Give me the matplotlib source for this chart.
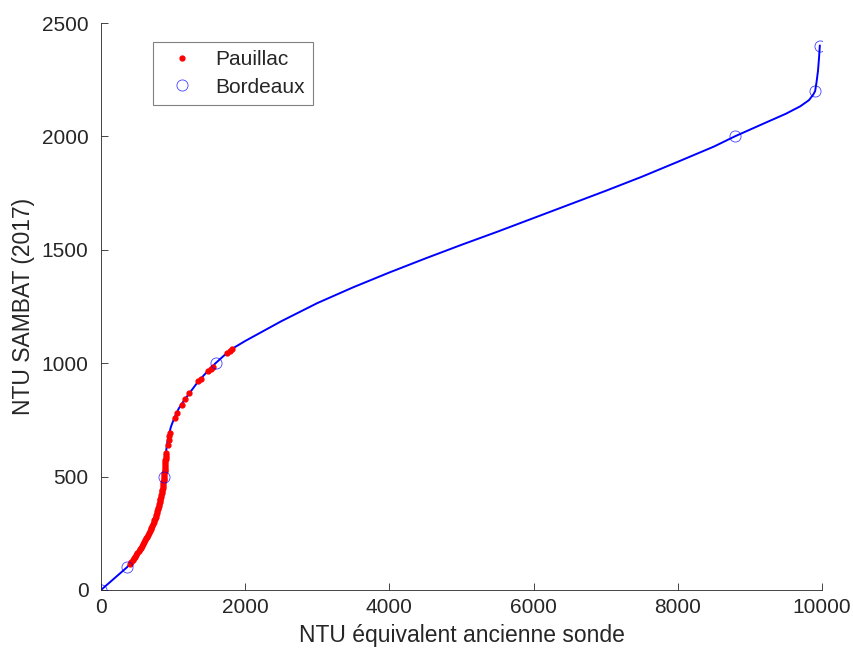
import numpy as np
import matplotlib
matplotlib.use("Agg")
import matplotlib.pyplot as plt

plt.rcParams['font.family'] = ['Liberation Sans', 'DejaVu Sans']

# Bordeaux calibration points
bordeaux_x = [0, 360, 878, 1589, 8790, 9905, 9970]
bordeaux_y = [0, 100, 500, 1000, 2000, 2200, 2400]

# fitted curve
courbe_x = [0, 180, 360, 440, 500, 575, 635, 680, 725, 755, 785, 808, 830,
            848, 862, 875, 884, 891, 899, 913, 937, 970, 1018, 1078, 1160,
            1255, 1349, 1465, 1589, 1700, 1800, 2000, 2500, 3000, 3500, 4000,
            4500, 5000, 5500, 6000, 6500, 7000, 7500, 8000, 8500, 8790, 9200,
            9500, 9700, 9820, 9880, 9905, 9925, 9945, 9960, 9970]
courbe_y = [0, 50, 100, 130, 160, 200, 235, 260, 294, 320, 353, 380, 411,
            440, 470, 500, 530, 560, 600, 640, 680, 720, 760, 800, 840,
            880, 920, 960, 1000, 1032, 1060, 1098, 1185, 1265, 1335, 1400,
            1462, 1522, 1580, 1640, 1700, 1760, 1822, 1888, 1955, 2000, 2058,
            2100, 2133, 2160, 2185, 2200, 2240, 2290, 2350, 2400]

# Pauillac samples
pauillac_x = [400, 420, 442, 458, 474, 490, 505, 520, 535, 551, 566, 580, 594,
              608, 622, 635, 649, 664, 678, 689, 700, 711, 721, 730, 740, 749,
              758, 766, 773, 780, 787, 794, 800, 807, 813, 819, 824, 830, 835,
              840, 845, 850, 853, 857, 861, 864, 868, 872, 875, 877, 880, 882,
              884, 886, 888, 890, 891, 893, 895, 896, 898, 899,
              930, 942, 945, 950, 1026, 1058, 1118, 1164, 1224, 1349, 1382,
              1488, 1520, 1557, 1742, 1788, 1811]
pauillac_y = [115, 123, 131, 139, 147, 155, 163, 171, 179, 187, 195, 203, 211,
              219, 227, 235, 243, 251, 259, 267, 275, 283, 291, 299, 307, 315,
              323, 331, 339, 347, 355, 363, 371, 379, 387, 395, 403, 411, 419,
              427, 435, 443, 451, 459, 467, 475, 483, 491, 499, 507, 515, 523,
              531, 539, 547, 555, 563, 571, 579, 587, 595, 603,
              640, 660, 680, 692, 757, 779, 816, 841, 867, 921, 930,
              966, 974, 985, 1046, 1055, 1061]

gris = (0.15, 0.15, 0.15)

fig = plt.figure(figsize=(8.54, 6.54), dpi=100)
ax = fig.add_axes([0.1183, 0.0979, 0.8442, 0.8669])

ax.plot(courbe_x, courbe_y, color=(0, 0, 1), lw=1.4, zorder=2)
ax.plot(pauillac_x, pauillac_y, '.', color=(1, 0, 0), ms=7, label='Pauillac', zorder=3)
ax.plot(bordeaux_x, bordeaux_y, 'o', mfc='none', mec=(0, 0, 1), mew=0.6, ms=8,
        alpha=0.75, label='Bordeaux', zorder=4)

ax.set_xlim(0, 10000)
ax.set_ylim(0, 2500)
ax.set_xticks([0, 2000, 4000, 6000, 8000, 10000])
ax.set_yticks([0, 500, 1000, 1500, 2000, 2500])
ax.spines['top'].set_visible(False)
ax.spines['right'].set_visible(False)
for s in ['left', 'bottom']:
    ax.spines[s].set_color(gris)
    ax.spines[s].set_linewidth(0.6)
ax.tick_params(direction='in', length=5, width=0.6, colors=gris, labelsize=15)
ax.tick_params(axis='y', pad=9)
ax.tick_params(axis='x', pad=6)

ax.set_xlabel('NTU équivalent ancienne sonde', fontsize=16.5, color=gris, labelpad=5)
ax.set_ylabel('NTU SAMBAT (2017)', fontsize=16.5, color=gris, labelpad=5)

leg = ax.legend(loc='upper left', bbox_to_anchor=(153 / 854, 1 - 42 / 654),
                bbox_transform=fig.transFigure, borderaxespad=0, fontsize=15,
                fancybox=False, framealpha=1, edgecolor=(0.5, 0.5, 0.5),
                handletextpad=0.6, borderpad=0.4, labelspacing=0.4)
leg.get_frame().set_linewidth(0.8)
for t in leg.get_texts():
    t.set_color(gris)

fig.savefig('out.png', dpi=100)
